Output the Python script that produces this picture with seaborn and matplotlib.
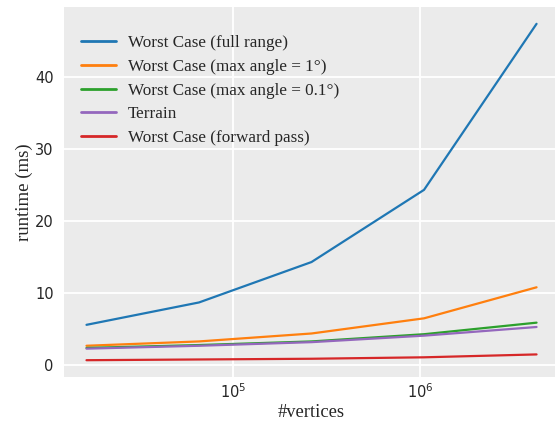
import numpy as np
import pandas as pd
import matplotlib
matplotlib.use("Agg")
import matplotlib.pyplot as plt
import seaborn as sns

vertices = [16384, 65536, 262144, 1048576, 4194304]
series_names = [
    "Worst Case (full range)",
    "Worst Case (max angle = 1°)",
    "Worst Case (max angle = 0.1°)",
    "Terrain",
    "Worst Case (forward pass)",
]
full_range = [5.6, 8.7, 14.3, 24.3, 47.3]
max_angle_1 = [2.7, 3.3, 4.4, 6.5, 10.8]
max_angle_01 = [2.4, 2.8, 3.3, 4.3, 5.9]
terrain = [2.3, 2.7, 3.2, 4.1, 5.3]
forward_pass = [0.7, 0.8, 0.9, 1.1, 1.5]

values = [full_range, max_angle_1, max_angle_01, terrain, forward_pass]
rows = []
for name, vals in zip(series_names, values):
    for v, t in zip(vertices, vals):
        rows.append({"vertices": v, "runtime": t, "series": name})
df = pd.DataFrame(rows)

sns.set_theme(style="darkgrid", rc={"axes.facecolor": "#EBEBEB", "grid.color": "white",
                                    "grid.linewidth": 1.3})
plt.rcParams['font.family'] = ['DejaVu Sans']

fig = plt.figure(figsize=(5.55, 4.22), dpi=100)
ax = fig.add_axes([0.1153, 0.1066, 0.892, 0.8768])
palette = ["#1f77b4", "#ff7f0e", "#2ca02c", "#9467bd", "#d62728"]
sns.lineplot(data=df, x="vertices", y="runtime", hue="series", hue_order=series_names,
             palette=palette, linewidth=1.6, ax=ax)
ax.set_xscale("log")
ax.set_xlabel("#vertices", family="Liberation Serif", fontsize=13.3, labelpad=2)
ax.set_ylabel("runtime (ms)", family="Liberation Serif", fontsize=13.5, labelpad=1.5)
ax.tick_params(axis="both", labelsize=10.5, length=0)
ax.tick_params(axis="y", pad=7.5)
ax.tick_params(axis="x", pad=4)
ax.set_yticks([0, 10, 20, 30, 40])
ax.grid(False, which="minor")
ax.margins(x=0.05, y=0.05)
leg = ax.legend(loc="upper left", bbox_to_anchor=(0.021, 0.942), borderaxespad=0,
                frameon=False, prop={"family": "Liberation Serif", "size": 12.3},
                handlelength=2.05, labelspacing=0.45, handletextpad=0.7)
for line in leg.get_lines():
    line.set_linewidth(2)
for s in ax.spines.values():
    s.set_visible(False)
fig.savefig("out.png", dpi=100)
